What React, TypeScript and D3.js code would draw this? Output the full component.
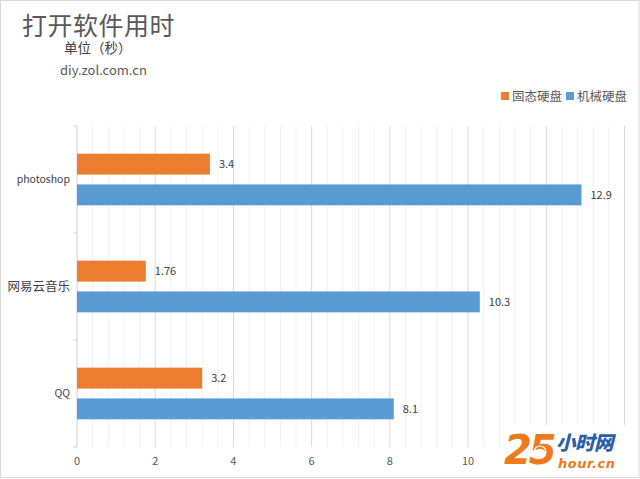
import React from "react";
import * as d3 from "d3";

const categories = ["photoshop", "网易云音乐", "QQ"];
const seriesNames = ["固态硬盘", "机械硬盘"];
const ssdValues = [3.4, 1.76, 3.2];
const hddValues = [12.9, 10.3, 8.1];
const xTicks = [0, 2, 4, 6, 8, 10];
const colors = ["#ED7D31", "#5B9BD5"];

const W = 640;
const H = 479;
const FONT = "'Noto Sans CJK SC', 'Microsoft YaHei', sans-serif";

export default function App() {
  const x = d3.scaleLinear().domain([0, 14]).range([77, 624.5]);
  const y = d3.scaleBand<string>().domain(categories).range([126, 447]).padding(0);
  const ys = d3
    .scaleBand<string>()
    .domain(seriesNames)
    .range([0, y.bandwidth()])
    .paddingInner(0.32)
    .paddingOuter(0.9);
  const minor = d3.range(0, 14.0001, 0.4).filter((v) => Math.abs(v / 2 - Math.round(v / 2)) > 1e-6);
  const major = d3.range(0, 14.0001, 2);
  const seriesVals = [ssdValues, hddValues];
  const [y0, y1] = y.range();

  return (
    <svg
      width={W}
      height={H}
      style={{ position: "fixed", left: 0, top: 0, background: "#fff" }}
      fontFamily={FONT}
    >
      <rect x={0} y={0} width={W} height={H} fill="#fff" />
      <rect x={0.5} y={0.5} width={W - 1.5} height={H - 2} fill="none" stroke="#d9d9d9" />

      {/* title */}
      <text x={22} y={35} fontSize={25} fill="#595959" letterSpacing={0.5}>打开软件用时</text>
      <text x={64} y={53} fontSize={13.5} fill="#404040">单位（秒）</text>
      <text x={60} y={75} fontSize={13} fill="#595959">diy.zol.com.cn</text>

      {/* legend */}
      {seriesNames.map((s, i) => {
        const lx = i === 0 ? 501 : 566;
        return (
          <g key={s}>
            <rect x={lx} y={92} width={8} height={8} fill={colors[i]} />
            <text x={lx + 11} y={100.5} fontSize={12.5} fill="#595959">{s}</text>
          </g>
        );
      })}

      {/* gridlines */}
      {minor.map((v) => (
        <line key={"mn" + v} x1={x(v)} x2={x(v)} y1={y0} y2={y1} stroke="#f0f0f0" />
      ))}
      {major.map((v) => (
        <line key={"mj" + v} x1={x(v)} x2={x(v)} y1={y0} y2={y1} stroke={v === 0 ? "#d0d0d0" : "#d9d9d9"} />
      ))}
      {/* category ticks */}
      {[0, 1, 2, 3].map((i) => {
        const yy = y0 + i * y.step();
        return <line key={"ct" + i} x1={73} x2={x(0)} y1={yy} y2={yy} stroke="#d0d0d0" />;
      })}

      {/* bars */}
      {categories.map((c, ci) => (
        <g key={c}>
          {seriesNames.map((s, si) => {
            const v = seriesVals[si][ci];
            const by = (y(c) as number) + (ys(s) as number);
            return (
              <g key={s}>
                <rect x={x(0)} y={by} width={x(v) - x(0)} height={ys.bandwidth()} fill={colors[si]} />
                <text
                  x={x(v) + 9}
                  y={by + ys.bandwidth() / 2}
                  dy="0.35em"
                  fontSize={11}
                  fill="#404040"
                >
                  {String(v)}
                </text>
              </g>
            );
          })}
          <text
            x={70}
            y={(y(c) as number) + y.bandwidth() / 2}
            dy="0.35em"
            textAnchor="end"
            fontSize={ci === 1 ? 12.5 : 10.5}
            fill="#404040"
          >
            {c}
          </text>
        </g>
      ))}

      {/* x tick labels */}
      {xTicks.map((t) => (
        <text key={"xt" + t} x={x(t)} y={465} textAnchor="middle" fontSize={11} fill="#595959">
          {t}
        </text>
      ))}

      {/* watermark logo */}
      <g>
        <rect x={500} y={425} width={132} height={47} fill="#fff" />
        <text x={504} y={464} fontSize={40} fontWeight={900} fontStyle="italic" fill="#EE7A1C" fontFamily="'DejaVu Sans', sans-serif" letterSpacing={-3}>
          25
        </text>
        <circle cx={540} cy={452} r={6} fill="none" stroke="#fff" strokeWidth={1.2} />
        <circle cx={540} cy={452} r={2.5} fill="none" stroke="#fff" strokeWidth={1} />
        <text x={556} y={450} fontSize={19.5} fontWeight={900} fontStyle="italic" fill="#2C5FA8" letterSpacing={-0.5}>
          小时网
        </text>
        <text x={558} y={468} fontSize={13} fontWeight={700} fontStyle="italic" fill="#EE7A1C" fontFamily="'DejaVu Sans', sans-serif" letterSpacing={0.5}>
          hour.cn
        </text>
      </g>
    </svg>
  );
}
